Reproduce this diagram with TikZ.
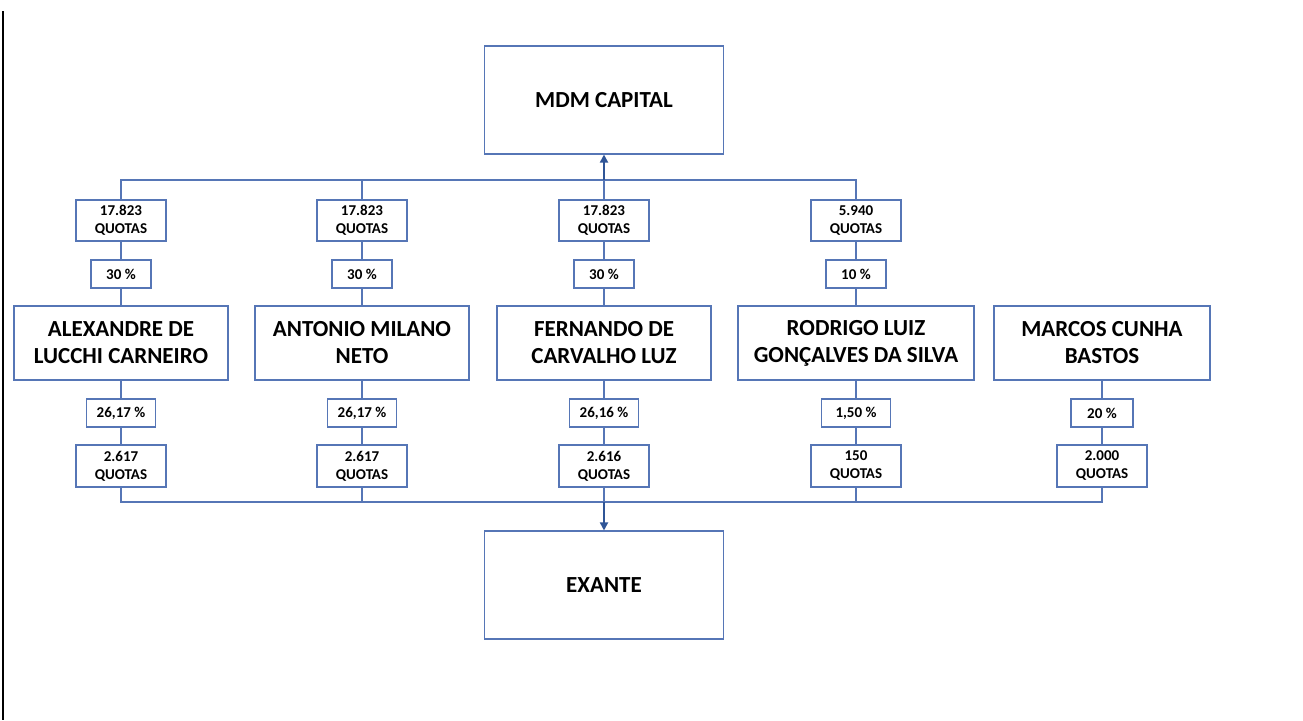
\documentclass[tikz,border=0pt]{standalone}
\usepackage{fontspec}
\setmainfont{Carlito}
\usetikzlibrary{arrows.meta}
\definecolor{ln}{RGB}{86,118,182}
\definecolor{ar}{RGB}{47,85,151}
\tikzset{
  bx/.style={draw=ln, line width=1.1pt, inner sep=0pt, align=center, fill=white},
  small/.style={bx, font=\bfseries\fontsize{15}{18}\selectfont},
  qbox/.style={small, minimum width=90pt, minimum height=41pt},
  pbox/.style={small, minimum width=60pt, minimum height=28pt},
  lpbox/.style={small, minimum width=69pt, minimum height=28pt},
  person/.style={bx, font=\bfseries\fontsize{23}{27}\selectfont, minimum height=74pt},
  bigbox/.style={bx, font=\bfseries\fontsize{23}{27}\selectfont, minimum width=239pt, minimum height=108pt},
  conn/.style={draw=ln, line width=1.1pt},
  arr/.style={draw=ar, line width=1.8pt, -{Triangle[length=8pt,width=8pt]}},
}
\begin{document}
\begin{tikzpicture}[x=1pt,y=-1pt]
\useasboundingbox (0,0) rectangle (1303,720);
\draw[line width=2.4pt] (2.8,11) -- (2.8,720);

\node[bigbox] (mdm) at (604,100) {MDM CAPITAL};
\node[bigbox] (ex) at (604,585) {EXANTE};

% column 1
\node[qbox] (qt1) at (121,220.5) {17.823\\QUOTAS};
\node[pbox] (pc1) at (121,274) {30 \%};
\node[person, minimum width=214pt] (p1) at (121,343) {ALEXANDRE DE\\LUCCHI CARNEIRO};
\node[lpbox] (lp1) at (121,413) {26,17 \%};
\node[qbox, minimum height=42pt] (lq1) at (121,466) {2.617\\QUOTAS};
% column 2
\node[qbox] (qt2) at (362,220.5) {17.823\\QUOTAS};
\node[pbox] (pc2) at (362,274) {30 \%};
\node[person, minimum width=214pt] (p2) at (362,343) {ANTONIO MILANO\\NETO};
\node[lpbox] (lp2) at (362,413) {26,17 \%};
\node[qbox, minimum height=42pt] (lq2) at (362,466) {2.617\\QUOTAS};
% column 3
\node[qbox] (qt3) at (604,220.5) {17.823\\QUOTAS};
\node[pbox] (pc3) at (604,274) {30 \%};
\node[person, minimum width=214pt] (p3) at (604,343) {FERNANDO DE\\CARVALHO LUZ};
\node[lpbox] (lp3) at (604,413) {26,16 \%};
\node[qbox, minimum height=42pt] (lq3) at (604,466) {2.616\\QUOTAS};
% column 4
\node[qbox] (qt4) at (856,220.5) {5.940\\QUOTAS};
\node[pbox] (pc4) at (856,274) {10 \%};
\node[person, minimum width=236pt] (p4) at (856,343) {RODRIGO LUIZ\\GONÇALVES DA SILVA};
\node[lpbox] (lp4) at (856,413) {1,50 \%};
\node[qbox, minimum height=42pt] (lq4) at (856,466) {150\\QUOTAS};
% column 5
\node[person, minimum width=216pt] (p5) at (1102,343) {MARCOS CUNHA\\BASTOS};
\node[pbox, minimum width=62pt] (lp5) at (1102,413) {20 \%};
\node[qbox, minimum height=42pt] (lq5) at (1102,466) {2.000\\QUOTAS};

% vertical chains
\foreach \i in {1,2,3,4}{
  \draw[conn] (qt\i) -- (pc\i) -- (p\i) -- (lp\i) -- (lq\i);
}
\draw[conn] (p5) -- (lp5) -- (lq5);

% top bus
\coordinate (tb) at (0,180);
\draw[conn] (qt1.north) |- (tb -| qt4.north) -- (qt4.north);
\draw[conn] (qt2.north) -- (tb -| qt2.north);
\draw[conn] (qt3.north) -- (tb -| qt3.north);
\draw[arr] (tb -| mdm.south) -- (mdm.south);

% bottom bus
\coordinate (bb) at (0,502);
\draw[conn] (lq1.south) |- (bb -| lq5.south) -- (lq5.south);
\draw[conn] (lq2.south) -- (bb -| lq2.south);
\draw[conn] (lq3.south) -- (bb -| lq3.south);
\draw[conn] (lq4.south) -- (bb -| lq4.south);
\draw[arr] (bb -| ex.north) -- (ex.north);
\end{tikzpicture}
\end{document}
